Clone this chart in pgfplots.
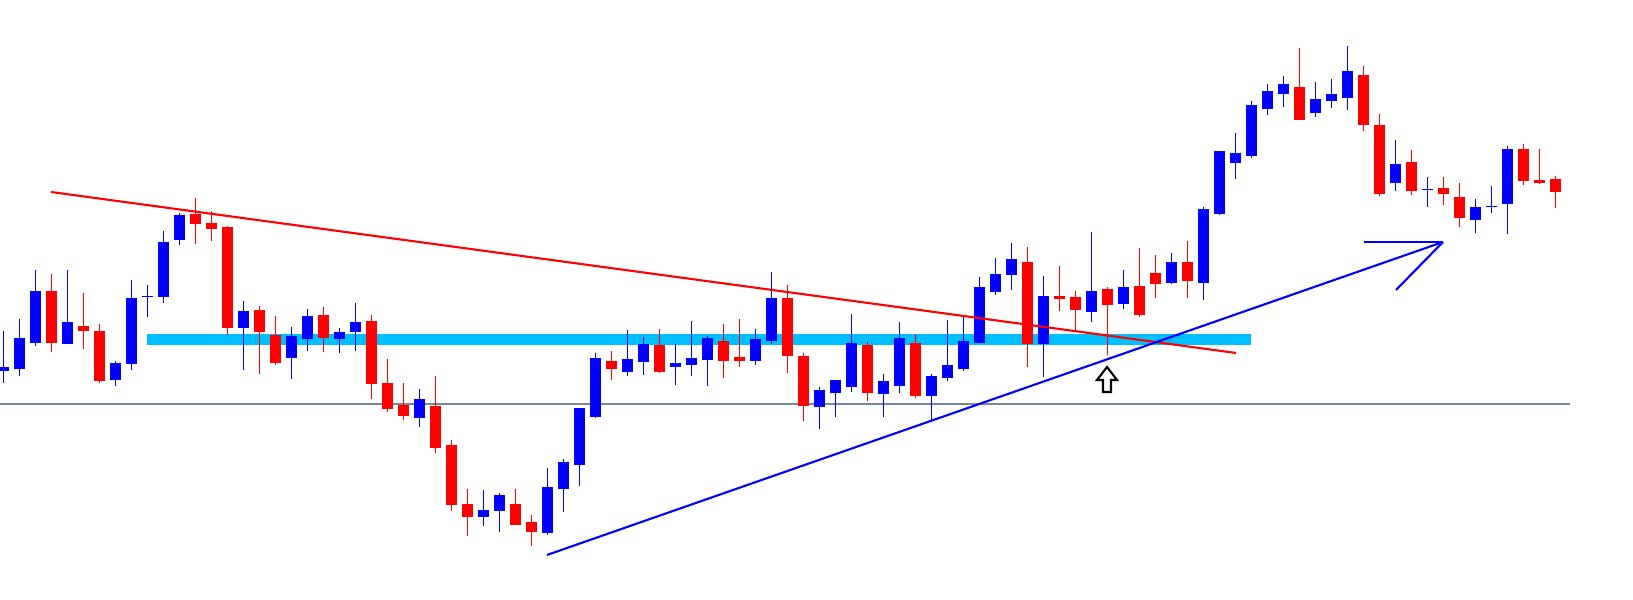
\documentclass[border=0pt]{standalone}
\usepackage{pgfplots}
\usepackage{pgfplotstable}
\pgfplotsset{compat=1.18}
\definecolor{bull}{HTML}{0000FF}
\definecolor{bear}{HTML}{FF0000}
\definecolor{band}{HTML}{00BFFF}
\definecolor{slate}{HTML}{778899}
% columns: x open high low close (screen pixel heights, smaller = higher price)
\pgfplotstableread{
x o h l c
3.5 371 331 383 367
19.5 369 319 376 338
35.5 343 270 346 291
67.5 344 270 344 322
115.5 380 361 386 363
131.5 364 280 370 298
147.5 297 285 317 296
163.5 297 231 303 242
179.5 240 213 245 215
243.5 328 301 370 311
291.5 358 327 379 336
307.5 339 309 351 316
339.5 339 328 353 332
355.5 332 303 351 322
419.5 418 389 427 399
483.5 517 490 526 510
499.5 511 493 532 495
547.5 533 468 535 487
563.5 489 459 512 462
579.5 465 408 486 408
595.5 417 353 418 358
627.5 372 330 376 359
643.5 362 337 375 344
675.5 367 344 385 363
691.5 365 321 376 358
707.5 360 336 386 338
755.5 361 329 365 339
771.5 341 272 344 298
819.5 407 387 429 390
835.5 393 380 417 380
851.5 387 314 392 343
883.5 394 374 417 381
899.5 386 322 393 338
931.5 396 374 421 376
947.5 378 320 381 365
963.5 369 317 371 341
979.5 343 277 343 287
995.5 292 258 295 274
1011.5 275 243 290 259
1043.5 344 276 377 296
1091.5 312 232 322 291
1123.5 304 270 309 287
1171.5 283 253 284 262
1203.5 283 207 300 209
1219.5 214 151 215 151
1235.5 163 133 179 153
1251.5 156 101 158 105
1267.5 109 84 115 91
1283.5 94 76 107 84
1315.5 113 82 117 99
1331.5 101 79 108 94
1347.5 98 46 110 71
1395.5 183 140 191 164
1427.5 190 177 207 189
1475.5 220 199 233 207
1491.5 207 186 213 206
1507.5 204 146 234 149
}\bulltable
\pgfplotstableread{
x o h l c
51.5 291 274 352 343
83.5 326 293 349 331
99.5 331 324 383 381
195.5 214 198 244 224
211.5 223 211 241 229
227.5 227 226 335 328
259.5 310 306 374 332
275.5 335 316 365 363
323.5 315 307 352 338
371.5 321 315 399 384
387.5 383 359 412 409
403.5 405 383 420 416
435.5 406 376 453 448
451.5 445 440 511 505
467.5 504 489 536 517
515.5 504 489 525 525
531.5 522 515 546 532
611.5 361 351 380 369
659.5 345 329 373 372
723.5 341 324 378 361
739.5 357 319 367 361
787.5 298 285 373 356
803.5 356 353 421 406
867.5 345 342 401 393
915.5 343 334 398 396
1027.5 262 247 367 344
1059.5 296 266 311 299
1075.5 297 291 330 310
1107.5 289 287 355 305
1139.5 286 248 317 315
1155.5 273 255 298 284
1187.5 262 241 298 281
1299.5 87 48 120 120
1363.5 75 66 131 125
1379.5 125 114 196 194
1411.5 162 150 195 191
1443.5 188 177 205 194
1459.5 197 183 227 218
1523.5 149 144 185 181
1539.5 180 149 184 183
1555.5 179 176 208 192
}\beartable
\pgfplotstableread{
x y
51 192
1236 353
}\redline
\pgfplotstableread{
x y
547 555
1443 242
}\blueline
\pgfplotstableread{
x y
1364 242
1443 242
}\arrowA
\pgfplotstableread{
x y
1396 290
1443 242
}\arrowB
\pgfplotstableread{
x y
147 339.5
1251 339.5
}\bandline
\pgfplotstableread{
x y
0 404
1570 404
}\grayline
\begin{document}
\begin{tikzpicture}
\begin{axis}[
  hide axis, scale only axis,
  width=163.3mm, height=60mm,
  xmin=0, xmax=1633, ymin=0, ymax=600,
  y dir=reverse,
  clip=true,
  candle/.style={draw=none, no markers, error bars/.cd, y dir=both, y explicit, error mark=none},
]
\path (rel axis cs:0,0) rectangle (rel axis cs:1,1);
% horizontal reference line
\addplot[slate, line width=0.4pt] table {\grayline};
% support band
\addplot[band, line width=1.1mm] table {\bandline};
% wicks
\addplot[candle, error bar style={draw=bull, line width=0.35pt}]
  table[x=x, y expr={(\thisrow{h}+\thisrow{l})/2}, y error expr={(\thisrow{l}-\thisrow{h})/2}] {\bulltable};
\addplot[candle, error bar style={draw=bear, line width=0.35pt}]
  table[x=x, y expr={(\thisrow{h}+\thisrow{l})/2}, y error expr={(\thisrow{l}-\thisrow{h})/2}] {\beartable};
% bodies
\addplot[candle, error bar style={draw=bull, line width=1.1mm}]
  table[x=x, y expr={(\thisrow{o}+\thisrow{c})/2}, y error expr={max(abs(\thisrow{o}-\thisrow{c})/2,0.8)}] {\bulltable};
\addplot[candle, error bar style={draw=bear, line width=1.1mm}]
  table[x=x, y expr={(\thisrow{o}+\thisrow{c})/2}, y error expr={max(abs(\thisrow{o}-\thisrow{c})/2,0.8)}] {\beartable};
% trend lines
\addplot[bear, line width=0.6pt] table {\redline};
\addplot[bull, line width=0.6pt] table {\blueline};
\addplot[bull, line width=0.6pt] table {\arrowA};
\addplot[bull, line width=0.6pt] table {\arrowB};
% outline arrow marker
\draw[black, fill=white, line width=0.6pt, line join=miter]
  (axis cs:1107,367) -- (axis cs:1117,380) -- (axis cs:1111,380) -- (axis cs:1111,392)
  -- (axis cs:1103,392) -- (axis cs:1103,380) -- (axis cs:1097,380) -- cycle;
\end{axis}
\end{tikzpicture}
\end{document}
